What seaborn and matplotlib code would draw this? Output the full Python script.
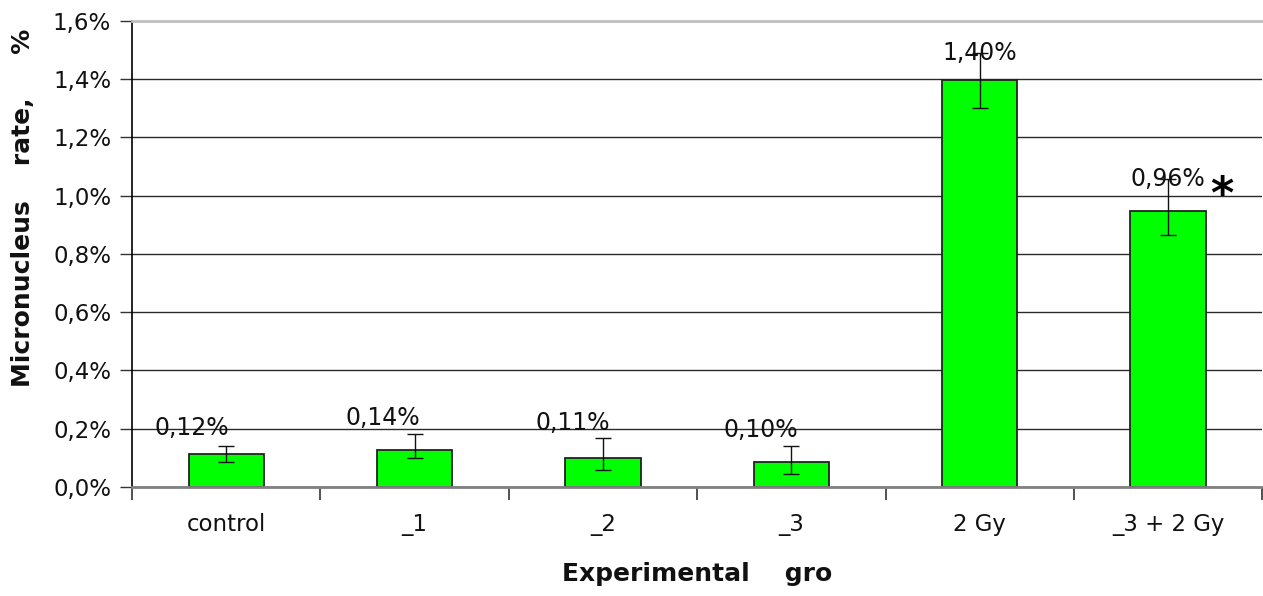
import numpy as np
import pandas as pd
import matplotlib
matplotlib.use("Agg")
import matplotlib.pyplot as plt
import seaborn as sns
from matplotlib.ticker import FuncFormatter, FixedLocator

# values, in percent
groups = ['control', '_1', '_2', '_3', '2 Gy', '_3 + 2 Gy']
rate = [0.114, 0.127, 0.100, 0.087, 1.396, 0.947]
err_low = [0.086, 0.100, 0.058, 0.046, 1.300, 0.864]
err_high = [0.142, 0.182, 0.167, 0.142, 1.489, 1.056]
bar_labels = ['0,12%', '0,14%', '0,11%', '0,10%', '1,40%', '0,96%']

# where the value labels sit (category offset, height in %)
label_dx = [-0.18, -0.17, -0.16, -0.16, 0.0, 0.0]
label_y = [0.178, 0.214, 0.196, 0.172, 1.466, 1.032]

sns.set_style('white')
plt.rcParams['font.family'] = ['DejaVu Sans']

df = pd.DataFrame({'group': groups, 'rate': rate})

fig = plt.figure(figsize=(12.63, 5.96), dpi=100)
ax = fig.add_axes([0.1045, 0.1829, 0.8950, 0.7819])

sns.barplot(data=df, x='group', y='rate', color='#00FF00', saturation=1,
            width=0.4, edgecolor='#222222', linewidth=1.3, errorbar=None, ax=ax)

x = np.arange(len(groups))
r = np.array(rate)
yerr = [r - np.array(err_low), np.array(err_high) - r]
ax.errorbar(x, r, yerr=yerr, fmt='none', ecolor='#111111', elinewidth=1,
            capsize=5.5, capthick=1, zorder=5)

for i, t in enumerate(bar_labels):
    ax.text(i + label_dx[i], label_y[i], t, ha='center', va='baseline',
            fontsize=17, color='#111111', zorder=6)

# significance mark
ax.text(5.285, 1.0, '*', ha='center', va='center', fontsize=32,
        fontweight='bold', color='black', zorder=6)

ax.set_ylim(0, 1.6)
ax.set_xlim(-0.5, 5.5)
ax.set_yticks(np.arange(0, 1.61, 0.2))
ax.yaxis.set_major_formatter(FuncFormatter(lambda v, p: f'{v:.1f}%'.replace('.', ',')))
ax.grid(axis='y', color='#2a2a2a', linewidth=1)
ax.set_axisbelow(True)

ax.xaxis.set_minor_locator(FixedLocator(np.arange(-0.5, 6.0, 1.0)))
ax.tick_params(axis='x', which='major', length=0, pad=19, labelsize=16.5,
               labelcolor='#111111')
ax.tick_params(axis='x', which='minor', length=9, width=1.2, direction='out',
               color='#333333', bottom=True)
ax.tick_params(axis='y', length=9, width=1, direction='out', left=True,
               pad=6, labelsize=16.5, color='#333333', labelcolor='#111111')

ax.spines['right'].set_visible(False)
ax.spines['top'].set_color('#c0c0c0')
ax.spines['top'].set_linewidth(2)
ax.spines['left'].set_color('black')
ax.spines['left'].set_linewidth(1.2)
ax.spines['bottom'].set_color('#808080')
ax.spines['bottom'].set_linewidth(2)

ax.set_xlabel('Experimental    gro', fontsize=18, fontweight='bold', color='#111111')
ax.xaxis.set_label_coords(0.5, -0.162)
ax.set_ylabel('Micronucleus    rate,     %', fontsize=18, fontweight='bold',
              color='#111111')
ax.yaxis.set_label_coords(-0.086, 0.6)
ax.yaxis.label.set_va('bottom')

fig.savefig('out.png', dpi=100)
